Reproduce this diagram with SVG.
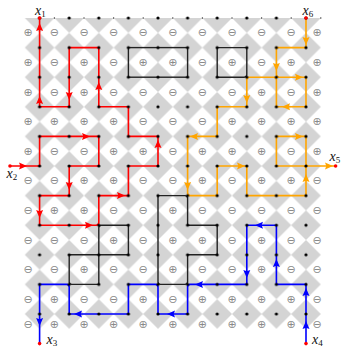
<svg xmlns="http://www.w3.org/2000/svg" xmlns:xlink="http://www.w3.org/1999/xlink" width="341" height="346" viewBox="0 0 341 346">
<style>
.sym{font-family:"DejaVu Sans",sans-serif;font-size:11px;fill:#8a8a8a;text-anchor:middle;dominant-baseline:central}
.lab{font-family:"Liberation Serif",serif;font-style:italic;font-size:14px;fill:#111}
.sub{font-style:normal;font-size:9px}
.p{fill:none;stroke-width:1.6;stroke-linejoin:miter}
.red{stroke:#ff0000}.ora{stroke:#ffa500}.blu{stroke:#0000ff}.blk{stroke:#222;stroke-width:1.4}
.ar{fill:#ff0000}.ao{fill:#ffa500}.ab{fill:#0000ff}
</style>
<defs>
<pattern id="chk" patternUnits="userSpaceOnUse" x="24.8" y="3.2" width="29.6" height="29.6">
<path d="M14.8,0 L29.6,14.8 L14.8,29.6 L0,14.8 Z" fill="#d4d4d4"/>
</pattern>
<pattern id="dots" patternUnits="userSpaceOnUse" x="24.8" y="3.2" width="29.6" height="29.6">
<circle cx="14.8" cy="14.8" r="1.6" fill="#000"/>
</pattern>
<path id="ah" d="M4.5,0 L-3.5,-3.5 L-2.2,0 L-3.5,3.5 Z"/>
</defs>
<rect width="341" height="346" fill="#fff"/>
<g id="board">
<rect x="24.8" y="18" width="296" height="310.8" fill="url(#chk)"/>
</g>
<g id="signs" class="sym">
<text x="28 54.4 84 113.6 143.2 172.8 202.4 232 261.6 291.2 317" y="32.8">⊕⊖⊖⊖⊖⊖⊖⊖⊖⊖⊕</text>
<text x="28 54.4 84 113.6 143.2 172.8 202.4 232 261.6 291.2 317" y="62.4">⊕⊖⊕⊖⊕⊕⊖⊕⊖⊕⊕</text>
<text x="28 54.4 84 113.6 143.2 172.8 202.4 232 261.6 291.2 317" y="92">⊕⊖⊕⊖⊖⊖⊖⊖⊕⊖⊕</text>
<text x="28 54.4 84 113.6 143.2 172.8 202.4 232 261.6 291.2 317" y="121.6">⊕⊕⊕⊕⊖⊖⊖⊕⊕⊕⊕</text>
<text x="28 54.4 84 113.6 143.2 172.8 202.4 232 261.6 291.2 317" y="151.2">⊕⊖⊖⊕⊕⊖⊕⊕⊕⊖⊕</text>
<text x="28 54.4 84 113.6 143.2 172.8 202.4 232 261.6 291.2 317" y="180.8">⊖⊖⊕⊕⊖⊖⊕⊖⊕⊕⊖</text>
<text x="28 54.4 84 113.6 143.2 172.8 202.4 232 261.6 291.2 317" y="210.4">⊖⊕⊕⊖⊖⊕⊖⊖⊖⊖⊖</text>
<text x="28 54.4 84 113.6 143.2 172.8 202.4 232 261.6 291.2 317" y="240">⊖⊖⊖⊕⊖⊕⊕⊖⊕⊖⊖</text>
<text x="28 54.4 84 113.6 143.2 172.8 202.4 232 261.6 291.2 317" y="269.6">⊖⊖⊕⊖⊖⊕⊖⊖⊕⊖⊖</text>
<text x="28 54.4 84 113.6 143.2 172.8 202.4 232 261.6 291.2 317" y="299.2">⊖⊕⊖⊖⊕⊖⊕⊕⊕⊕⊖</text>
<text x="28 54.4 84 113.6 143.2 172.8 202.4 232 261.6 291.2 317" y="324">⊖⊕⊕⊕⊕⊕⊕⊕⊕⊕⊖</text>
</g>
<g id="connectors">
<g id="loops-black">
<rect class="p blk" x="128.4" y="47.6" width="59.2" height="29.6"/>
<path class="p blk" d="M217.2,47.6 H246.8 V74.6 Q246.8,77.2 244.2,77.2 H217.2 Z"/>
<path class="p blk" d="M160.6,284.4 Q158,284.4 158,281.8 V195.6 H185 Q187.6,195.6 187.6,198.2 V225.2 H217.2 V254.8 H187.6 V281.8 Q187.6,284.4 185,284.4 Z"/>
<path class="p blk" d="M101.4,225.2 H128.4 V254.8 H69.2 V281.8 Q69.2,284.4 71.8,284.4 H98.8 V227.8 Q98.8,225.2 101.4,225.2 Z"/>
</g>
<g id="path-red">
<path class="p red" d="M10,166 H39.6 V136.4 H98.8 V166 H69.2 V195.6 H39.6 V225.2 H96.2 Q98.8,225.2 98.8,222.6 V195.6 H128.4 V166 H158 V136.4 H128.4 V106.8 H98.8 V47.6 H69.2 V106.8 H39.6 V18"/>
<g class="ar">
<use xlink:href="#ah" transform="translate(39.6,27.5) rotate(-90)"/>
<use xlink:href="#ah" transform="translate(39.6,100.5) rotate(-90)"/>
<use xlink:href="#ah" transform="translate(69.2,95.5) rotate(90)"/>
<use xlink:href="#ah" transform="translate(98.8,86.5) rotate(-90)"/>
<use xlink:href="#ah" transform="translate(85.5,136.4)"/>
<use xlink:href="#ah" transform="translate(22.5,166)"/>
<use xlink:href="#ah" transform="translate(69.2,185.5) rotate(90)"/>
<use xlink:href="#ah" transform="translate(39.6,213.5) rotate(90)"/>
<use xlink:href="#ah" transform="translate(88.5,225.2)"/>
<use xlink:href="#ah" transform="translate(120.5,195.6)"/>
<use xlink:href="#ah" transform="translate(158,144.5) rotate(-90)"/>
</g>
</g>
<g id="path-orange">
<path class="p ora" d="M306,18 V47.6 H276.4 V74.6 Q276.4,77.2 279,77.2 H306 V106.8 H276.4 V79.8 Q276.4,77.2 273.8,77.2 H249.4 Q246.8,77.2 246.8,79.8 V106.8 H217.2 V136.4 H187.6 V193 Q187.6,195.6 190.2,195.6 H217.2 V166 H246.8 V195.6 H306 V168.6 Q306,166 303.4,166 H276.4 V136.4 H306 V163.4 Q306,166 308.6,166 H335.6"/>
<g class="ao">
<use xlink:href="#ah" transform="translate(306,40.5) rotate(90)"/>
<use xlink:href="#ah" transform="translate(276.4,66.5) rotate(90)"/>
<use xlink:href="#ah" transform="translate(298.5,77.2)"/>
<use xlink:href="#ah" transform="translate(286.5,106.8) rotate(180)"/>
<use xlink:href="#ah" transform="translate(246.8,98.5) rotate(90)"/>
<use xlink:href="#ah" transform="translate(194.5,136.4) rotate(180)"/>
<use xlink:href="#ah" transform="translate(187.6,185.5) rotate(90)"/>
<use xlink:href="#ah" transform="translate(240.5,166)"/>
<use xlink:href="#ah" transform="translate(298.5,136.4)"/>
<use xlink:href="#ah" transform="translate(306,178.5) rotate(-90)"/>
<use xlink:href="#ah" transform="translate(328.5,166)"/>
</g>
</g>
<g id="path-blue">
<path class="p blu" d="M306,343.6 V284.4 H276.4 V225.2 H246.8 V284.4 H190.2 Q187.6,284.4 187.6,287 V314 H158 V287 Q158,284.4 155.4,284.4 H128.4 V314 H69.2 V287 Q69.2,284.4 66.6,284.4 H39.6 V343.6"/>
<g class="ab">
<use xlink:href="#ah" transform="translate(306,325.5) rotate(-90)"/>
<use xlink:href="#ah" transform="translate(306,292.5) rotate(-90)"/>
<use xlink:href="#ah" transform="translate(276.4,263.5) rotate(-90)"/>
<use xlink:href="#ah" transform="translate(259.5,225.2) rotate(180)"/>
<use xlink:href="#ah" transform="translate(246.8,273.5) rotate(90)"/>
<use xlink:href="#ah" transform="translate(199.5,284.4) rotate(180)"/>
<use xlink:href="#ah" transform="translate(171.5,314) rotate(180)"/>
<use xlink:href="#ah" transform="translate(78.5,314) rotate(180)"/>
<use xlink:href="#ah" transform="translate(39.6,321.5) rotate(90)"/>
</g>
</g>
</g>
<g id="vertices">
<rect x="24.8" y="3.2" width="296" height="325.6" fill="url(#dots)"/>
<g fill="#333">
<circle cx="54.4" cy="18" r="0.7"/><circle cx="84" cy="18" r="0.7"/><circle cx="113.6" cy="18" r="0.7"/><circle cx="143.2" cy="18" r="0.7"/><circle cx="172.8" cy="18" r="0.7"/><circle cx="202.4" cy="18" r="0.7"/><circle cx="232" cy="18" r="0.7"/><circle cx="261.6" cy="18" r="0.7"/><circle cx="291.2" cy="18" r="0.7"/><circle cx="320.8" cy="18" r="0.7"/>
</g>
<g fill="#ff0000">
<circle cx="39.6" cy="18" r="1.8"/><circle cx="306" cy="18" r="1.8"/><circle cx="10" cy="166" r="1.8"/><circle cx="335.6" cy="166" r="1.8"/><circle cx="39.6" cy="343.6" r="1.8"/><circle cx="306" cy="343.6" r="1.8"/>
</g>
</g>
<g id="labels" class="lab">
<text x="35" y="15">x<tspan class="sub" dy="1.5">1</tspan></text>
<text x="302.5" y="15">x<tspan class="sub" dy="1.5">6</tspan></text>
<text x="6.5" y="178">x<tspan class="sub" dy="1.5">2</tspan></text>
<text x="329.5" y="161">x<tspan class="sub" dy="1.5">5</tspan></text>
<text x="46.5" y="344">x<tspan class="sub" dy="1.5">3</tspan></text>
<text x="312" y="344">x<tspan class="sub" dy="1.5">4</tspan></text>
</g>
</svg>
